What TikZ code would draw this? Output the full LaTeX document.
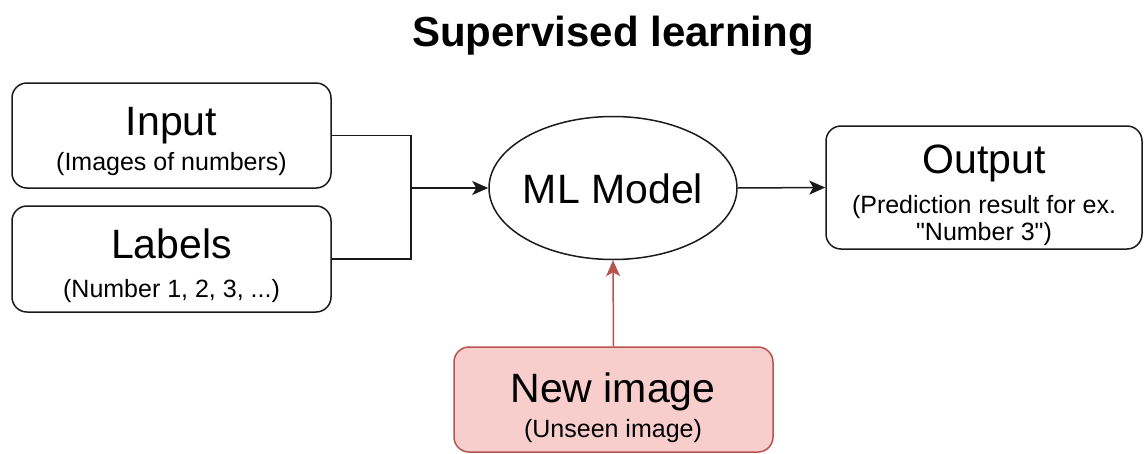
\documentclass[tikz,border=0pt]{standalone}
\usepackage{fontspec}
\setmainfont{Liberation Sans}[Ligatures=TeXOff]
\usetikzlibrary{arrows.meta,shapes.geometric}
\definecolor{newfill}{HTML}{F8CECC}
\definecolor{newdraw}{HTML}{B85450}
\definecolor{ink}{HTML}{1A1A1A}
\tikzset{
  box/.style={draw=ink, line width=1.5pt, rounded corners=15pt, inner sep=0pt},
  mainlbl/.style={anchor=base, inner sep=0pt, font=\fontsize{41}{48}\selectfont},
  sublbl/.style={anchor=base, inner sep=0pt, font=\fontsize{25}{30}\selectfont},
  wire/.style={draw=ink, line width=1.5pt},
  arr/.style={wire, -{Stealth[length=16pt,width=14pt,inset=4pt]}},
}
\begin{document}
\begin{tikzpicture}[x=1pt,y=-1pt]
\useasboundingbox (0,0) rectangle (1144,453);

% title
\node[anchor=base, inner sep=0pt, font=\fontsize{42}{50}\selectfont\bfseries] (title) at (613,46) {Supervised learning};

% input boxes
\node[box, minimum width=319pt, minimum height=105pt] (inp) at (171.5,135.5) {};
\node[mainlbl] (inpT) at (171.5,135) {Input};
\node[sublbl] (inpS) at (171.5,170) {(Images of numbers)};

\node[box, minimum width=319pt, minimum height=106pt] (lab) at (171.5,259) {};
\node[mainlbl] (labT) at (171.5,258) {Labels};
\node[sublbl] (labS) at (171.5,297) {(Number 1, 2, 3, ...)};

% model
\node[draw=ink, line width=1.5pt, ellipse, minimum width=248pt, minimum height=143pt, inner sep=0pt] (ml) at (613,188) {};
\node[mainlbl] (mlT) at (613,203) {ML Model};

% output
\node[box, minimum width=316pt, minimum height=123pt] (out) at (984,187.5) {};
\node[mainlbl] (outT) at (984,173) {Output};
\node[sublbl] (outS1) at (984,213) {(Prediction result for ex.};
\node[sublbl] (outS2) at (984,240) {"Number 3")};

% new image
\node[box, draw=newdraw, fill=newfill, minimum width=319pt, minimum height=105pt] (new) at (613.5,399.5) {};
\node[mainlbl] (newT) at (613,402) {New image};
\node[sublbl] (newS) at (613,437) {(Unseen image)};

% connectors
\coordinate (join) at (411,188);
\draw[wire] (inp.east) -| (join);
\draw[wire] (lab.east) -| (join);
\draw[arr] (join) -- (ml.west);
\draw[arr] (ml.east) -- (out.west);
\draw[arr, draw=newdraw] (new.north) -- (ml.south);
\end{tikzpicture}
\end{document}
